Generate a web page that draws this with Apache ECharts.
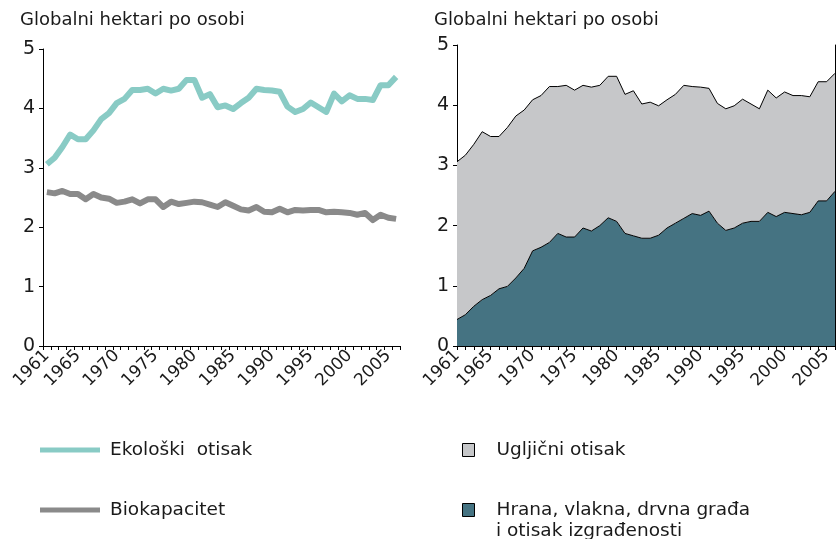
<!DOCTYPE html>
<html>
<head>
<meta charset="utf-8">
<script src="https://cdn.jsdelivr.net/npm/echarts@6/dist/echarts.min.js"></script>
<style>
  html, body { margin: 0; padding: 0; background: #fff; }
  #chart { width: 836px; height: 539px; }
</style>
</head>
<body>
<div id="chart"></div>
<script>
// Years 1961–2006
const years = [];
for (let y = 1961; y <= 2006; y++) years.push(String(y));

// Left panel: ecological footprint and biocapacity (global hectares per person)
const ekoloskiOtisak = [
  3.06, 3.17, 3.35, 3.56, 3.48, 3.48, 3.63, 3.82, 3.92, 4.09,
  4.16, 4.31, 4.31, 4.33, 4.25, 4.33, 4.30, 4.33, 4.48, 4.48,
  4.18, 4.24, 4.02, 4.05, 3.99, 4.09, 4.18, 4.33, 4.31, 4.30,
  4.28, 4.03, 3.94, 3.99, 4.10, 4.02, 3.94, 4.25, 4.12, 4.22,
  4.16, 4.16, 4.14, 4.39, 4.39, 4.53
];
const biokapacitet = [
  2.59, 2.57, 2.61, 2.56, 2.56, 2.47, 2.56, 2.50, 2.48, 2.41,
  2.43, 2.47, 2.40, 2.47, 2.47, 2.34, 2.43, 2.39, 2.41, 2.43,
  2.42, 2.38, 2.34, 2.42, 2.36, 2.30, 2.28, 2.34, 2.26, 2.25,
  2.31, 2.25, 2.29, 2.28, 2.29, 2.29, 2.25, 2.26, 2.25, 2.24,
  2.21, 2.24, 2.12, 2.21, 2.16, 2.14
];

// Right panel: stacked components of the footprint
const hranaVlakna = [
  0.44, 0.52, 0.66, 0.77, 0.84, 0.95, 0.99, 1.13, 1.29, 1.58,
  1.64, 1.72, 1.87, 1.81, 1.81, 1.96, 1.91, 2.00, 2.13, 2.07,
  1.87, 1.83, 1.79, 1.79, 1.84, 1.96, 2.04, 2.12, 2.20, 2.17,
  2.24, 2.04, 1.92, 1.96, 2.04, 2.07, 2.07, 2.22, 2.15, 2.22,
  2.20, 2.18, 2.22, 2.41, 2.41, 2.57
];
const ugljicniOtisak = [
  2.62, 2.65, 2.69, 2.79, 2.64, 2.53, 2.64, 2.69, 2.63, 2.51,
  2.52, 2.59, 2.44, 2.52, 2.44, 2.37, 2.39, 2.33, 2.35, 2.41,
  2.31, 2.41, 2.23, 2.26, 2.15, 2.13, 2.14, 2.21, 2.11, 2.13,
  2.04, 1.99, 2.02, 2.03, 2.06, 1.95, 1.87, 2.03, 1.97, 2.00,
  1.96, 1.98, 1.92, 1.98, 1.98, 1.96
];

const yTicks = { min: 0, max: 5, interval: 1 };
const unitLabel = 'Globalni hektari po osobi';
const nameHrana = 'Hrana, vlakna, drvna građa';
const nameHranaLine2 = 'i otisak izgrađenosti';
const nameHranaFull = nameHrana + '\n' + nameHranaLine2;

const FONT = 'DejaVu Sans';
const TEXT = '#1a1a1a';
const LEGEND_SIZE = 18.5;

const showYear = (idx, val) => val === '1961' || Number(val) % 5 === 0;

function xAxis(gridIndex, gap) {
  return {
    type: 'category', gridIndex, data: years, boundaryGap: gap,
    axisLine: { lineStyle: { color: '#000', width: 1 } },
    axisTick: { show: true, interval: 0, length: 4, lineStyle: { color: '#000' } },
    axisLabel: {
      interval: showYear, rotate: 45, margin: 7,
      fontFamily: FONT, fontSize: 17, color: TEXT
    },
    splitLine: { show: false }
  };
}
function yAxis(gridIndex) {
  return {
    type: 'value', gridIndex, min: yTicks.min, max: yTicks.max, interval: yTicks.interval,
    axisLine: { show: true, lineStyle: { color: '#000', width: 1 } },
    axisTick: { show: true, length: 4, lineStyle: { color: '#000' } },
    axisLabel: { fontFamily: FONT, fontSize: 19, color: TEXT, margin: 8 },
    splitLine: { show: false }
  };
}

const chart = echarts.init(document.getElementById('chart'), null, { renderer: 'canvas' });
chart.setOption({
  animation: false,
  backgroundColor: '#fff',
  textStyle: { fontFamily: FONT },
  title: [
    { text: unitLabel, left: 20, top: 11, padding: 0, textStyle: { fontFamily: FONT, fontSize: 18, fontWeight: 'normal', color: TEXT } },
    { text: unitLabel, left: 434, top: 11, padding: 0, textStyle: { fontFamily: FONT, fontSize: 18, fontWeight: 'normal', color: TEXT } }
  ],
  grid: [
    { left: 43, right: 436, top: 49, bottom: 193 },
    { left: 457, right: 1, top: 45, bottom: 193 }
  ],
  xAxis: [xAxis(0, true), xAxis(1, false)],
  yAxis: [
    yAxis(0), yAxis(1),
    { type: 'value', gridIndex: 1, position: 'right', min: 0, max: 5,
      axisLine: { show: true, lineStyle: { color: '#000' } },
      axisTick: { show: false }, axisLabel: { show: false }, splitLine: { show: false } }
  ],
  legend: [
    {
      orient: 'vertical', left: 40, top: 439, padding: 0, height: 120, itemGap: 38,
      itemWidth: 60, itemHeight: 5, icon: 'rect',
      textStyle: { fontFamily: FONT, fontSize: LEGEND_SIZE, color: TEXT, lineHeight: 22, padding: [0, 0, 0, 5] },
      data: ['Ekološki  otisak', 'Biokapacitet']
    },
    {
      orient: 'vertical', left: 462, top: 439, padding: 0, height: 120, itemGap: 38,
      itemWidth: 12, itemHeight: 13, icon: 'rect',
      itemStyle: { borderColor: '#000', borderWidth: 1 },
      textStyle: { fontFamily: FONT, fontSize: LEGEND_SIZE, color: TEXT, lineHeight: 22, padding: [0, 0, 0, 17] },
      formatter: name => name.split('\n')[0],
      data: ['Ugljični otisak', nameHranaFull]
    }
  ],
  graphic: [
    { type: 'text', left: 496, top: 522,
      style: { text: nameHranaLine2, fontFamily: FONT, fontSize: LEGEND_SIZE, fill: TEXT } }
  ],
  series: [
    {
      name: 'Ekološki  otisak', type: 'line', xAxisIndex: 0, yAxisIndex: 0,
      data: ekoloskiOtisak, symbol: 'none',
      lineStyle: { color: '#89cbc5', width: 6, join: 'round' },
      itemStyle: { color: '#89cbc5' }
    },
    {
      name: 'Biokapacitet', type: 'line', xAxisIndex: 0, yAxisIndex: 0,
      data: biokapacitet, symbol: 'none',
      lineStyle: { color: '#8a8a8a', width: 6, join: 'round' },
      itemStyle: { color: '#8a8a8a' }
    },
    {
      name: nameHranaFull, type: 'line',
      xAxisIndex: 1, yAxisIndex: 1, stack: 'otisak',
      data: hranaVlakna, symbol: 'none',
      lineStyle: { color: '#000', width: 1 },
      areaStyle: { color: '#457382', opacity: 1 },
      itemStyle: { color: '#457382' }
    },
    {
      name: 'Ugljični otisak', type: 'line',
      xAxisIndex: 1, yAxisIndex: 1, stack: 'otisak',
      data: ugljicniOtisak, symbol: 'none',
      lineStyle: { color: '#000', width: 1 },
      areaStyle: { color: '#c6c7c9', opacity: 1 },
      itemStyle: { color: '#c6c7c9' }
    }
  ]
});
</script>
</body>
</html>
